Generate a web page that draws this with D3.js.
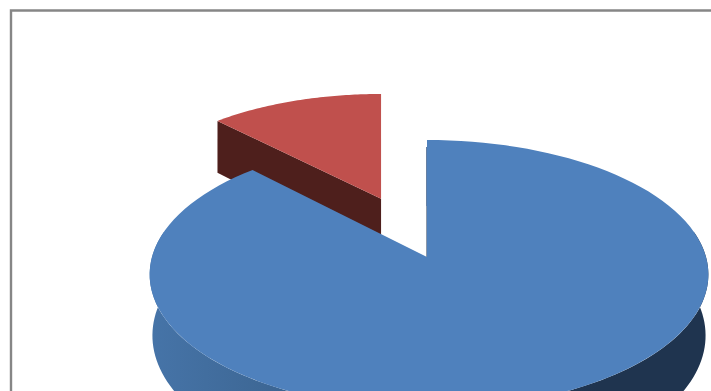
<!DOCTYPE html>
<html>
<head>
<meta charset="utf-8">
<script src="https://cdn.jsdelivr.net/npm/d3@7/dist/d3.min.js"></script>
<style>
  html, body { margin: 0; padding: 0; background: #fff; overflow: hidden; }
  svg { display: block; }
</style>
</head>
<body>
<svg id="chart" width="711" height="391"></svg>
<script>
// Share of each slice, clockwise from twelve o'clock
const categories = ["Main", "Other"];
const values = [87.8, 12.2];
const topColors = ["#4f81bd", "#c0504d"];
const explode = [0, 0.505];

const width = 711, height = 391;
const svg = d3.select("#chart");

// Border of the chart area
svg.append("path")
  .attr("d", "M11,391V10.5H711")
  .attr("fill", "none")
  .attr("stroke", "#868686")
  .attr("stroke-width", 2.4);

// Perspective projection of the unit disc onto the page
const centre = { x: 427, y: 257 };
const radiusX = { left: 275, right: 279 };
const radiusY = 132.2;
const tilt = 0.13;
const depth = 60;

function project(wx, wy, lower) {
  const s = 1 / (1 - tilt * wy);
  const rx = wx < 0 ? radiusX.left : radiusX.right;
  const shrink = lower ? 0.99 : 1;
  return [
    centre.x + rx * wx * s * shrink,
    centre.y + radiusY * wy * s + (lower ? depth * s : 0)
  ];
}

const arcs = d3.pie().sort(null).value(d => d)(values);

// Points along a rim; angle 0 is straight up on the page
function rimPoint(angle, off, lower) {
  return project(Math.sin(angle) + off[0], -Math.cos(angle) + off[1], lower);
}
function rim(a0, a1, off, lower) {
  return d3.range(0, 121).map(i => rimPoint(a0 + (a1 - a0) * i / 120, off, lower));
}
function offsetOf(a, e) {
  const mid = (a.startAngle + a.endAngle) / 2;
  return [Math.sin(mid) * e, -Math.cos(mid) * e];
}
const line = d3.line();

// Horizontal shading for the outer wall of the large slice
const defs = svg.append("defs");
const wallScale = d3.scaleLinear()
  .domain([0, 0.2, 0.5, 0.77, 1])
  .range(["#4674a8", "#3e6896", "#2c4d74", "#1f344f", "#1f344f"]);
const grad = defs.append("linearGradient")
  .attr("id", "wallShade")
  .attr("gradientUnits", "userSpaceOnUse")
  .attr("x1", 150).attr("x2", 708).attr("y1", 0).attr("y2", 0);
d3.range(0, 1.01, 0.1).forEach(t => {
  grad.append("stop").attr("offset", t).attr("stop-color", wallScale(t));
});

// The detached slice goes first, since it sits behind the large one.
// Its horizontal spread is measured from its own apex, so its straight
// right-hand edge stays upright on the page.
const red = arcs[1];
const redOff = offsetOf(red, explode[1]);
const redAnchorX = project(redOff[0], redOff[1], false)[0] + 3;
function redPoint(angle, r, lower) {
  const wx = r * Math.sin(angle);
  const p = project(wx + redOff[0], -r * Math.cos(angle) + redOff[1], lower);
  const s = 1 / (1 - tilt * (-r * Math.cos(angle) + redOff[1]));
  return [redAnchorX + radiusX.left * 0.99 * wx * s, p[1]];
}
const redApex = redPoint(0, 0, false);
const redApexLow = redPoint(0, 0, true);
const redTip = redPoint(red.startAngle, 1, false);
const redTipLow = redPoint(red.startAngle, 1, true);
const redRim = d3.range(0, 61).map(i =>
  redPoint(red.startAngle + (red.endAngle - red.startAngle) * i / 60, 1, false));
svg.append("path")
  .attr("d", line([redTip, redApex, redApexLow, redTipLow]) + "Z")
  .attr("fill", "#4e1f1c");
svg.append("path")
  .attr("d", line([redApex, ...redRim]) + "Z")
  .attr("fill", topColors[1]);

// Large slice: outer wall below, cut edge, then the top face
const blue = arcs[0];
const noOff = [0, 0];
const lowerRim = rim(Math.PI / 2 - 0.2, Math.PI * 1.5 + 0.2, noOff, true);
const upperRim = rim(Math.PI / 2 - 0.2, Math.PI * 1.5 + 0.2, noOff, false);
svg.append("path")
  .attr("d", line([...upperRim, ...lowerRim.reverse()]) + "Z")
  .attr("fill", "url(#wallShade)");

const apex = project(0, 0, false);
svg.append("line")
  .attr("x1", apex[0]).attr("x2", apex[0])
  .attr("y1", 147).attr("y2", 206)
  .attr("stroke", "#3f5f8c")
  .attr("stroke-width", 1.6);
svg.append("line")
  .attr("x1", apex[0]).attr("x2", apex[0])
  .attr("y1", 206).attr("y2", apex[1])
  .attr("stroke", "#6e7f95")
  .attr("stroke-width", 1.6);

svg.append("path")
  .attr("d", line([apex, ...rim(blue.startAngle, blue.endAngle, noOff, false)]) + "Z")
  .attr("fill", topColors[0]);
</script>
</body>
</html>
